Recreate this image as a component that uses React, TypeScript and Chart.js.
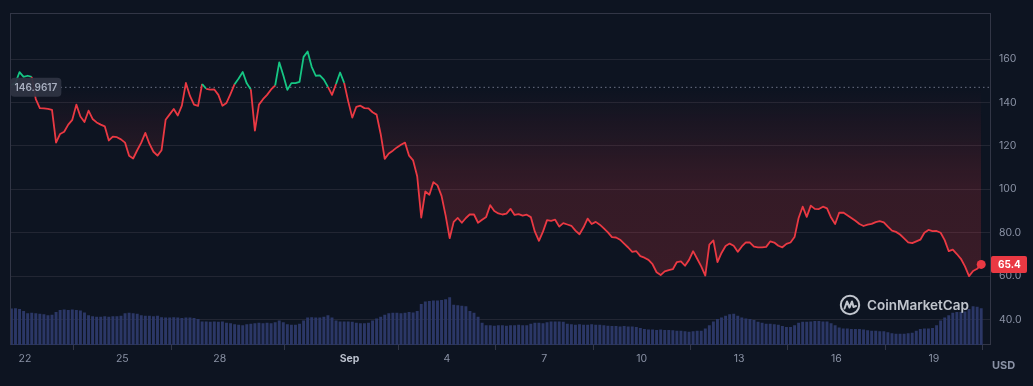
import React, { useEffect, useRef } from 'react';
import { Chart, registerables } from 'chart.js';

Chart.register(...registerables);

// ---- Data ----
const BASE_PRICE = 146.9617;
// time axis in days since Aug 21 00:00; samples every 3 hours from Aug 21 14:00
const START_DAY = 0.5833;
const STEP_DAY = 0.125;

const PRICES = [
  148, 149, 154, 151.8, 152.3, 151.8, 141.5, 137.4, 137.3, 137,
  136.6, 121.5, 125.5, 126.5, 129.8, 132, 139, 133.5, 131, 136.2,
  132.4, 130.8, 129.8, 129, 122.5, 124.3, 124, 123, 121.5, 115.5,
  114.2, 118, 121.5, 126, 121, 117.3, 115.5, 118, 132, 134.5,
  137, 134, 138.5, 149, 143, 139, 138.4, 148.5, 146.3, 145.9,
  146, 143.5, 138.5, 139.8, 144, 148.4, 151, 154, 148.8, 146,
  127, 139, 141.5, 143.5, 146, 147.8, 158.5, 152.5, 145.8, 148.9,
  148.9, 149.5, 161, 163.5, 156.4, 152.3, 152.5, 150.5, 147.2, 143.5,
  148.5, 153.8, 149, 140.5, 133, 138, 138.5, 137.4, 137.3, 135.5,
  134.4, 125.5, 114, 116.5, 117.8, 119.3, 120.5, 121.5, 115.5, 113.3,
  106, 87, 99, 97.5, 103.3, 101.8, 97, 88, 77.5, 85,
  86.8, 84.6, 86.8, 88.5, 88.4, 84.6, 86, 87.3, 92.7, 90,
  88.9, 88.4, 88.8, 91, 88.2, 88.6, 87.9, 88.3, 87.2, 80.5,
  76.3, 80.5, 85.8, 85.5, 86, 82.8, 84.4, 83.8, 83.2, 81,
  79.3, 82.5, 86.5, 84, 85, 83.7, 82, 80.2, 78, 77.8,
  76.8, 75, 73.2, 71.2, 71.5, 69.2, 68.5, 67.5, 65.5, 61.8,
  60.5, 62.2, 62.8, 63.2, 66.5, 66.8, 64.8, 67.5, 71.5, 68,
  64.5, 60.3, 74.5, 76.5, 66.5, 70.7, 73.9, 75, 74, 71.2,
  73.7, 75.6, 75.5, 73.6, 73.3, 73.3, 73.5, 76, 75.5, 74,
  73.3, 74.9, 75.5, 78, 86.8, 92, 87.3, 92.5, 91, 90.9,
  92, 91.2, 87, 84, 89.2, 89.3, 88.1, 86.8, 85.5, 84,
  83.1, 83.7, 84.1, 84.9, 85.3, 84.8, 82.8, 81, 80.4, 79.2,
  77.4, 75.6, 75.2, 76, 76.8, 80, 81.3, 80.7, 80.8, 80,
  76.6, 71.5, 72.2, 70.2, 68, 64.5, 60, 62.4, 63.4, 65.4,
];

// volume (millions USD, approximate)
const VOLUMES = [
  77, 78, 76, 72, 67, 68, 67, 66, 65, 63,
  64, 70, 74, 75, 74, 75, 74, 73, 69, 63,
  61, 60, 60, 61, 60, 61, 61, 62, 67, 68,
  67, 66, 63, 62, 62, 61, 62, 59, 58, 58,
  59, 58, 57, 58, 58, 57, 55, 50, 50, 49,
  50, 49, 50, 47, 46, 44, 43, 42, 44, 45,
  46, 47, 46, 47, 46, 48, 52, 48, 44, 43,
  43, 45, 52, 58, 59, 58, 58, 60, 63, 58,
  52, 50, 50, 50, 49, 47, 46, 46, 47, 52,
  56, 60, 64, 67, 68, 68, 67, 68, 70, 69,
  72, 87, 92, 93, 94, 94, 95, 97, 101, 85,
  84, 83, 82, 72, 68, 60, 47, 42, 42, 41,
  42, 42, 41, 42, 42, 43, 42, 42, 45, 47,
  47, 46, 48, 50, 50, 50, 49, 45, 44, 43,
  44, 43, 43, 44, 43, 43, 42, 41, 40, 40,
  39, 40, 39, 39, 38, 36, 34, 33, 33, 32,
  33, 32, 32, 31, 30, 30, 29, 28, 29, 30,
  30, 35, 42, 50, 55, 58, 62, 65, 66, 62,
  58, 56, 55, 53, 49, 47, 45, 45, 44, 43,
  40, 38, 38, 42, 47, 49, 49, 50, 51, 51,
  50, 50, 46, 42, 37, 35, 35, 34, 34, 34,
  33, 31, 30, 30, 29, 29, 27, 25, 24, 24,
  24, 25, 26, 30, 34, 35, 35, 36, 42, 52,
  58, 63, 68, 70, 70, 71, 76, 82, 81, 78,
];

const X_TICKS = [1, 4, 7, 11, 14, 17, 20, 23, 26, 29];
const X_TICK_LABELS = ['22', '25', '28', 'Sep', '4', '7', '10', '13', '16', '19'];
const Y_TICKS = [40, 60, 80, 100, 120, 140, 160];

const X_MIN = 0.57;
const X_MAX = 30.76;
const Y_MIN = 28.3;
const Y_MAX = 180.6;
const VOL_MAX = 700;

// ---- Styles ----
const BG = '#0d1421';
const RED = '#ea3943';
const GREEN = '#16c784';
const GRID = '#222633';
const BORDER = '#323646';
const TICK = '#8a92a5';
const FONT = 'Inter, "Noto Sans", sans-serif';

const overlayPlugin = {
  id: 'overlay',
  beforeDatasetsDraw(chart: any) {
    const { ctx, chartArea: a } = chart;
    ctx.save();
    ctx.strokeStyle = BORDER;
    ctx.lineWidth = 1;
    ctx.strokeRect(Math.round(a.left) - 0.5, Math.round(a.top) - 0.5, Math.round(a.right - a.left), Math.round(a.bottom - a.top));
    ctx.restore();
  },
  afterDraw(chart: any) {
    const { ctx, chartArea: a } = chart;
    const y = chart.scales.y;
    ctx.save();

    // baseline label
    const yb = y.getPixelForValue(BASE_PRICE);
    const bt = BASE_PRICE.toFixed(4);
    ctx.font = `600 10px ${FONT}`;
    const bw = ctx.measureText(bt).width + 8;
    ctx.fillStyle = 'rgba(46, 51, 66, 0.95)';
    ctx.beginPath();
    ctx.roundRect(a.left - 0.5, yb - 9.5, bw, 19, 4);
    ctx.fill();
    ctx.fillStyle = '#a9b0c0';
    ctx.textBaseline = 'middle';
    ctx.textAlign = 'left';
    ctx.fillText(bt, a.left + 3.5, yb + 0.5);

    // last price label
    const last = PRICES[PRICES.length - 1];
    const yl = y.getPixelForValue(last);
    ctx.fillStyle = RED;
    ctx.beginPath();
    ctx.roundRect(a.right, yl - 8.5, 36, 17, 2);
    ctx.fill();
    ctx.fillStyle = '#ffffff';
    ctx.font = `700 10px ${FONT}`;
    ctx.textAlign = 'center';
    ctx.fillText(last.toFixed(1), a.right + 18.5, yl + 0.5);

    // USD
    ctx.fillStyle = TICK;
    ctx.font = `700 11px ${FONT}`;
    ctx.textAlign = 'left';
    ctx.fillText('USD', a.right + 1, a.bottom + 21);

    // watermark
    const cx = a.right - 141;
    const cy = a.bottom - 40;
    ctx.strokeStyle = 'rgba(225, 228, 235, 0.85)';
    ctx.lineWidth = 2;
    ctx.lineJoin = 'round';
    ctx.lineCap = 'round';
    ctx.beginPath();
    ctx.arc(cx, cy, 9.2, 0, Math.PI * 2);
    ctx.stroke();
    ctx.beginPath();
    ctx.moveTo(cx - 5.5, cy + 3.5);
    ctx.lineTo(cx - 3, cy - 3.5);
    ctx.lineTo(cx - 0.5, cy + 2.5);
    ctx.lineTo(cx + 2, cy - 3.5);
    ctx.lineTo(cx + 3.5, cy + 2);
    ctx.lineTo(cx + 6, cy + 1);
    ctx.stroke();
    ctx.fillStyle = 'rgba(225, 228, 235, 0.85)';
    ctx.font = `600 13.5px ${FONT}`;
    ctx.textAlign = 'left';
    ctx.textBaseline = 'alphabetic';
    ctx.fillText('CoinMarketCap', cx + 17, cy + 5);

    ctx.restore();
  },
};

export default function App() {
  const ref = useRef<HTMLCanvasElement>(null);

  useEffect(() => {
    const canvas = ref.current;
    if (!canvas) return;
    const priceData = PRICES.map((p, i) => ({ x: START_DAY + i * STEP_DAY, y: p }));
    const volData = VOLUMES.map((v, i) => ({ x: START_DAY + i * STEP_DAY, y: v }));
    const baseData = [
      { x: X_MIN, y: BASE_PRICE },
      { x: X_MAX, y: BASE_PRICE },
    ];
    const sepValue = X_TICKS[X_TICK_LABELS.indexOf('Sep')];

    const chart = new Chart(canvas, {
      type: 'line',
      data: {
        datasets: [
          {
            type: 'line',
            data: priceData,
            yAxisID: 'y',
            order: 1,
            borderWidth: 1.8,
            borderColor: RED,
            borderJoinStyle: 'round',
            tension: 0,
            pointRadius: (c: any) => (c.dataIndex === PRICES.length - 1 ? 4.5 : 0),
            pointBackgroundColor: RED,
            pointBorderWidth: 0,
            pointHoverRadius: 0,
            segment: {
              borderColor: (c: any) =>
                (c.p0.parsed.y + c.p1.parsed.y) / 2 >= BASE_PRICE ? GREEN : RED,
            },
            fill: { value: BASE_PRICE },
            backgroundColor: (c: any) => {
              const ch = c.chart;
              const a = ch.chartArea;
              if (!a) return 'transparent';
              const yb = ch.scales.y.getPixelForValue(BASE_PRICE);
              const f = Math.min(Math.max((yb - a.top) / (a.bottom - a.top), 0), 1);
              const g = ch.ctx.createLinearGradient(0, a.top, 0, a.bottom);
              g.addColorStop(0, 'rgba(22,199,132,0.16)');
              g.addColorStop(f, 'rgba(22,199,132,0.0)');
              g.addColorStop(f, 'rgba(234,57,67,0.0)');
              g.addColorStop(Math.min(f + 0.3, 1), 'rgba(234,57,67,0.18)');
              g.addColorStop(1, 'rgba(234,57,67,0.22)');
              return g;
            },
          },
          {
            type: 'line',
            data: baseData,
            yAxisID: 'y',
            order: 2,
            borderColor: '#6a7084',
            borderWidth: 1,
            borderDash: [1.5, 3],
            pointRadius: 0,
            fill: false,
          },
          {
            type: 'bar',
            data: volData,
            yAxisID: 'vol',
            order: 3,
            backgroundColor: '#2b3766',
            borderWidth: 0,
            barPercentage: 1,
            categoryPercentage: 0.72,
          },
        ],
      } as any,
      options: {
        animation: false,
        responsive: false,
        maintainAspectRatio: false,
        devicePixelRatio: 1,
        events: [],
        layout: { padding: { left: 11, top: 10, right: 0, bottom: 0 } },
        plugins: {
          legend: { display: false },
          tooltip: { enabled: false },
        },
        scales: {
          x: {
            type: 'linear',
            min: X_MIN,
            max: X_MAX,
            offset: false,
            border: { display: false },
            grid: {
              drawOnChartArea: false,
              drawTicks: true,
              tickLength: 5,
              tickColor: BORDER,
              color: BORDER,
            },
            afterBuildTicks: (s: any) => {
              s.ticks = X_TICKS.map((v) => ({ value: v }));
            },
            afterFit: (s: any) => {
              s.height = 41;
            },
            ticks: {
              autoSkip: false,
              maxRotation: 0,
              padding: 3,
              color: (c: any) => (c.tick && c.tick.value === sepValue ? '#b9bfcc' : TICK),
              font: (c: any) => ({
                family: FONT,
                size: 10.5,
                weight: c.tick && c.tick.value === sepValue ? 'bold' : 'normal',
              }),
              callback: (v: any) => X_TICK_LABELS[X_TICKS.indexOf(Number(v))] ?? '',
            },
          },
          y: {
            type: 'linear',
            position: 'right',
            min: Y_MIN,
            max: Y_MAX,
            border: { display: false },
            grid: { color: GRID, lineWidth: 1, drawTicks: false },
            afterBuildTicks: (s: any) => {
              s.ticks = Y_TICKS.map((v) => ({ value: v }));
            },
            afterFit: (s: any) => {
              s.width = 42;
            },
            ticks: {
              padding: 8,
              color: TICK,
              font: { family: FONT, size: 10.5 },
              callback: (v: any) => (Number(v) >= 100 ? String(v) : Number(v).toFixed(1)),
            },
          },
          vol: {
            type: 'linear',
            display: false,
            min: 0,
            max: VOL_MAX,
          },
        },
      } as any,
      plugins: [overlayPlugin],
    });
    return () => chart.destroy();
  }, []);

  return (
    <div style={{ position: 'fixed', left: 0, top: 0, width: 1033, height: 386, background: BG }}>
      <canvas ref={ref} width={1033} height={386} style={{ display: 'block', width: 1033, height: 386 }} />
    </div>
  );
}
